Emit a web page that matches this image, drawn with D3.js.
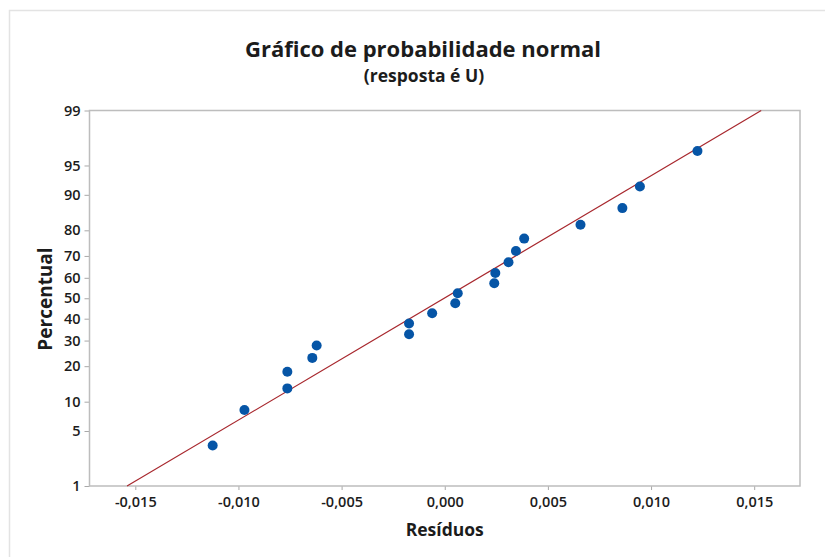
<!DOCTYPE html>
<html>
<head>
<meta charset="utf-8">
<script src="https://cdn.jsdelivr.net/npm/d3@7"></script>
<style>
  html, body { margin: 0; padding: 0; background: #fff; }
  svg { display: block; }
  text { font-family: "Open Sans", "Noto Sans", sans-serif; fill: #1c1c1c; }
</style>
</head>
<body>
<svg id="chart" width="825" height="557"></svg>
<script>
// Residuals (sorted) and their normal-plot percentiles
const residuals = [
  -0.01125, -0.00971, -0.00763, -0.00763, -0.00642, -0.00621, -0.00173, -0.00173,
  -0.00061, 0.00051, 0.00063, 0.00240, 0.00245, 0.00309, 0.00345, 0.00385,
  0.00658, 0.00861, 0.00946, 0.01225
];
const percents = [
  3.4, 8.3, 13.2, 18.1, 23.0, 27.9, 32.8, 37.7, 42.6, 47.5,
  52.5, 57.4, 62.3, 67.2, 72.1, 77.0, 81.9, 86.8, 91.7, 96.6
];
// Fitted normal reference line: endpoints at 1% and 99%
const fitPercents = [1, 99];
const fitResiduals = [-0.01540, 0.01534];

const xTicks = [-0.015, -0.010, -0.005, 0.000, 0.005, 0.010, 0.015];
const yTicks = [1, 5, 10, 20, 30, 40, 50, 60, 70, 80, 90, 95, 99];

const titleText = "Gráfico de probabilidade normal";
const subtitleText = "(resposta é U)";
const xLabel = "Resíduos";
const yLabel = "Percentual";

// Inverse standard normal CDF (Acklam's rational approximation)
function probit(p) {
  const a = [-3.969683028665376e+01, 2.209460984245205e+02, -2.759285104469687e+02,
             1.383577518672690e+02, -3.066479806614716e+01, 2.506628277459239e+00];
  const b = [-5.447609879822406e+01, 1.615858368580409e+02, -1.556989798598866e+02,
             6.680131188771972e+01, -1.328068155288572e+01];
  const c = [-7.784894002430293e-03, -3.223964580411365e-01, -2.400758277161838e+00,
             -2.549671442481280e+00, 4.374664141464968e+00, 2.938163982698783e+00];
  const d = [7.784695709041462e-03, 3.224671290700398e-01, 2.445134137142996e+00,
             3.754408661907416e+00];
  const pl = 0.02425, ph = 1 - pl;
  let q, r;
  if (p < pl) {
    q = Math.sqrt(-2 * Math.log(p));
    return (((((c[0]*q+c[1])*q+c[2])*q+c[3])*q+c[4])*q+c[5]) /
           ((((d[0]*q+d[1])*q+d[2])*q+d[3])*q+1);
  }
  if (p <= ph) {
    q = p - 0.5; r = q * q;
    return (((((a[0]*r+a[1])*r+a[2])*r+a[3])*r+a[4])*r+a[5])*q /
           (((((b[0]*r+b[1])*r+b[2])*r+b[3])*r+b[4])*r+1);
  }
  q = Math.sqrt(-2 * Math.log(1 - p));
  return -(((((c[0]*q+c[1])*q+c[2])*q+c[3])*q+c[4])*q+c[5]) /
          ((((d[0]*q+d[1])*q+d[2])*q+d[3])*q+1);
}

const svg = d3.select("#chart");
const plot = { left: 89.5, right: 800, top: 110.5, bottom: 486 };

const x = d3.scaleLinear().domain([-0.01722, 0.01722]).range([plot.left, plot.right]);
const zScale = d3.scaleLinear().domain([probit(0.01), probit(0.99)]).range([plot.bottom, plot.top]);
const y = pct => zScale(probit(pct / 100));

const locale = d3.formatLocale({ decimal: ",", thousands: ".", grouping: [3], currency: ["", ""], minus: "-" });
const fmtX = locale.format(".3f");

// Outer graph frame
svg.append("path")
  .attr("d", "M9.5,557 V10.5 H825")
  .attr("fill", "none").attr("stroke", "#e3e3e3").attr("stroke-width", 1.5);

// Titles
svg.append("text").attr("x", 423).attr("y", 57).attr("text-anchor", "middle")
  .attr("font-size", 22).attr("font-weight", 700).text(titleText);
svg.append("text").attr("x", 424).attr("y", 82).attr("text-anchor", "middle")
  .attr("font-size", 17.5).attr("font-weight", 700).text(subtitleText);

// Axes
const xAxis = d3.axisBottom(x).tickValues(xTicks).tickFormat(fmtX).tickSize(4).tickSizeOuter(0).tickPadding(7);
const yAxis = d3.axisLeft(zScale).tickValues(yTicks.map(p => probit(p / 100)))
  .tickFormat((d, i) => yTicks[i]).tickSize(5).tickSizeOuter(0).tickPadding(4);

const gx = svg.append("g").attr("transform", `translate(0,${plot.bottom})`).call(xAxis);
const gy = svg.append("g").attr("transform", `translate(${plot.left},0)`).call(yAxis);
[gx, gy].forEach(g => {
  g.select(".domain").remove();
  g.selectAll(".tick line").attr("stroke", "#a8a8a8").attr("stroke-width", 1);
  g.selectAll(".tick text").attr("font-size", 14.5).attr("font-weight", 600)
    .attr("font-family", "'Open Sans', sans-serif").attr("fill", "#1c1c1c");
});

// Plot frame
svg.append("rect")
  .attr("x", plot.left).attr("y", plot.top)
  .attr("width", plot.right - plot.left).attr("height", plot.bottom - plot.top)
  .attr("fill", "none").attr("stroke", "#bdbdbd").attr("stroke-width", 1.5);

// Axis titles
svg.append("text").attr("x", (plot.left + plot.right) / 2).attr("y", 536)
  .attr("text-anchor", "middle").attr("font-size", 17.5).attr("font-weight", 700).text(xLabel);
svg.append("text").attr("transform", `translate(52,299) rotate(-90)`)
  .attr("text-anchor", "middle").attr("font-size", 19).attr("font-weight", 700).text(yLabel);

// Fitted line
const lineData = fitPercents.map((p, i) => [fitResiduals[i], p]);
svg.append("path")
  .datum(lineData)
  .attr("d", d3.line().x(d => x(d[0])).y(d => y(d[1])))
  .attr("fill", "none").attr("stroke", "#a8282e").attr("stroke-width", 1.2);

// Points
svg.append("g").selectAll("circle")
  .data(residuals.map((r, i) => ({ r, p: percents[i] })))
  .join("circle")
  .attr("cx", d => x(d.r)).attr("cy", d => y(d.p)).attr("r", 5)
  .attr("fill", "#0655a6");
</script>
</body>
</html>
